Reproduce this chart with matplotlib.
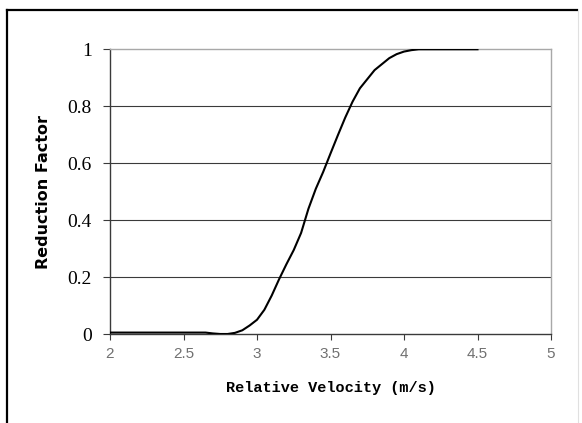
import matplotlib
matplotlib.use("Agg")
import matplotlib.pyplot as plt
from matplotlib.lines import Line2D

# Data
velocity = [2.0, 2.65, 2.7, 2.75, 2.8, 2.85, 2.9, 2.95, 3.0, 3.05, 3.1, 3.15, 3.2,
            3.25, 3.3, 3.35, 3.4, 3.45, 3.5, 3.55, 3.6, 3.65, 3.7, 3.75, 3.8,
            3.85, 3.9, 3.95, 4.0, 4.05, 4.1, 4.5]
reduction = [0.005, 0.005, 0.002, 0.0, 0.0, 0.004, 0.013, 0.03, 0.05, 0.085,
             0.135, 0.192, 0.245, 0.295, 0.355, 0.44, 0.51, 0.569, 0.634, 0.698,
             0.76, 0.816, 0.863, 0.895, 0.927, 0.948, 0.969, 0.983, 0.992,
             0.997, 1.0, 1.0]
x_ticks = [2, 2.5, 3, 3.5, 4, 4.5, 5]
x_tick_labels = ["2", "2.5", "3", "3.5", "4", "4.5", "5"]
y_ticks = [0, 0.2, 0.4, 0.6, 0.8, 1.0]
y_tick_labels = ["0", "0.2", "0.4", "0.6", "0.8", "1"]

W, H = 582, 423
fig = plt.figure(figsize=(W / 100, H / 100), dpi=100)
fig.patch.set_facecolor("white")

ax = fig.add_axes([110 / W, 1 - 334 / H, (551 - 110) / W, (334 - 49.3) / H])
ax.set_xlim(2, 5)
ax.set_ylim(0, 1)

# gridlines
for yv in y_ticks[1:-1]:
    ax.axhline(yv, color="#3a3a3a", lw=0.8, zorder=1)

ax.plot(velocity, reduction, color="black", lw=1.5, zorder=3, solid_joinstyle="round")

ax.spines["left"].set_color("#3a3a3a")
ax.spines["bottom"].set_color("#3a3a3a")
ax.spines["top"].set_color("#a8a8a8")
ax.spines["right"].set_color("#a8a8a8")
for s in ax.spines.values():
    s.set_linewidth(1.0)

ax.set_xticks(x_ticks)
ax.set_xticklabels(x_tick_labels, fontfamily="Liberation Sans", fontsize=11,
                   color="#707070")
ax.set_yticks(y_ticks)
ax.set_yticklabels(y_tick_labels, fontfamily="Liberation Serif", fontsize=14,
                   color="black")
ax.tick_params(axis="y", direction="out", length=5, width=0.8, color="#3a3a3a", pad=8)
ax.tick_params(axis="x", direction="out", length=4.5, width=0.8, color="#3a3a3a", pad=5)

ax.set_xlabel("Relative Velocity (m/s)", fontfamily="Liberation Mono",
              fontweight="bold", fontsize=11, labelpad=14)
ax.set_ylabel("Reduction Factor", fontfamily="DejaVu Sans", fontweight="bold",
              fontsize=11.5, labelpad=12)

# outer frame (left and top black, right faint)
fig.add_artist(Line2D([7 / W, 7 / W], [0, 1 - 10 / H], transform=fig.transFigure,
                      color="black", lw=1.6))
fig.add_artist(Line2D([7 / W, 577 / W], [1 - 10 / H, 1 - 10 / H], transform=fig.transFigure,
                      color="black", lw=1.6))
fig.add_artist(Line2D([577.5 / W, 577.5 / W], [0, 1 - 10 / H], transform=fig.transFigure,
                      color="#e0e0e0", lw=0.8))

fig.savefig("out.png", dpi=100)
